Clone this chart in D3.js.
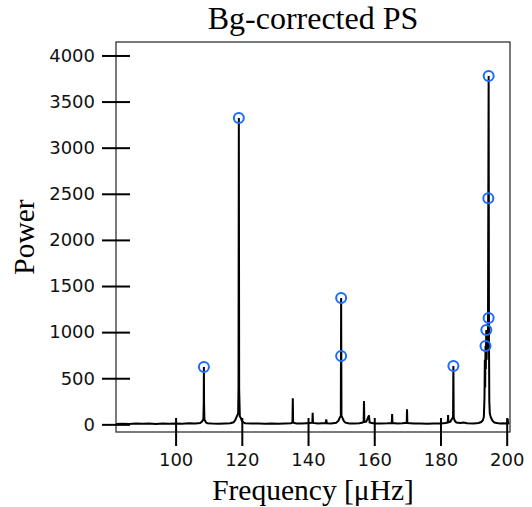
<!DOCTYPE html>
<html>
<head>
<meta charset="utf-8">
<script src="https://cdn.jsdelivr.net/npm/d3@7"></script>
<style>
  body { margin: 0; background: #fff; }
</style>
</head>
<body>
<div id="chart"></div>
<script>
// spectrum: [frequency (µHz), power]
const spectrum = [
    [82.0, 5], [84.0, 7], [86.0, 4], [88.0, 8], [90.0, 6], [92.0, 9], [94.0, 5], [96.0, 10],
    [98.0, 7], [100.0, 9], [102.0, 6], [104.0, 11], [106.0, 9], [107.4, 14], [107.9, 28],
    [108.2, 42], [108.4, 60], [108.5, 240], [108.55, 621], [108.6, 230], [108.7, 55],
    [108.9, 38], [109.2, 20], [109.6, 12], [111.0, 9], [113.0, 7], [115.0, 10], [116.5, 12],
    [117.5, 22], [118.0, 45], [118.3, 70], [118.6, 95], [118.9, 120], [119.0, 400],
    [119.1, 3322], [119.2, 380], [119.4, 85], [119.7, 70], [120.0, 40], [120.4, 22],
    [121.0, 12], [123.0, 8], [125.0, 10], [127.0, 7], [129.0, 9], [131.0, 6], [133.0, 10],
    [134.8, 12], [135.3, 20], [135.4, 282], [135.5, 18], [136.5, 10], [138.0, 8], [139.5, 12],
    [140.5, 14], [141.3, 18], [141.4, 126], [141.5, 16], [143.0, 9], [145.3, 14], [145.5, 54],
    [145.7, 12], [147.0, 10], [148.5, 18], [149.2, 40], [149.6, 75], [149.9, 90], [150.0, 1370],
    [150.1, 95], [150.4, 70], [150.8, 38], [151.3, 18], [152.5, 10], [154.0, 9], [155.5, 12],
    [156.5, 20], [156.8, 30], [156.9, 253], [157.0, 25], [157.6, 30], [158.4, 97], [158.6, 20],
    [160.0, 10], [162.0, 8], [164.0, 11], [165.3, 15], [165.4, 112], [165.5, 14], [167.0, 9],
    [168.5, 12], [169.8, 16], [169.9, 163], [170.0, 14], [172.0, 8], [174.0, 10], [176.0, 7],
    [178.0, 9], [180.0, 8], [181.5, 14], [182.2, 20], [182.3, 100], [182.4, 22], [183.0, 30],
    [183.5, 60], [183.8, 80], [183.9, 632], [184.0, 75], [184.3, 40], [184.8, 20], [186.0, 14],
    [187.0, 20], [188.0, 12], [190.0, 10], [191.5, 14], [192.3, 25], [192.8, 45], [193.1, 80],
    [193.3, 300], [193.4, 700], [193.5, 400], [193.6, 849], [193.7, 600], [193.8, 950],
    [193.85, 1023], [193.95, 700], [194.05, 980], [194.15, 800], [194.25, 950], [194.35, 1000],
    [194.45, 2452], [194.55, 3778], [194.65, 900], [194.75, 250], [194.9, 120], [195.1, 90],
    [195.4, 60], [195.8, 35], [196.3, 20], [197.0, 14], [198.0, 10], [199.0, 12], [200.0, 9],
    [200.2, 20], [200.3, 60], [200.4, 15], [200.8, 8]
];

// detected modes (blue circles)
const modeFreqs = [108.55, 119.1, 150.0, 150.0, 183.9, 194.55, 194.45, 194.55, 193.85, 193.6];
const modePowers = [621, 3322, 1370, 742, 632, 3778, 2452, 1153, 1023, 849];

const freqTicks = [100, 120, 140, 160, 180, 200];
const powerTicks = [0, 500, 1000, 1500, 2000, 2500, 3000, 3500, 4000];

const width = 532;
const height = 507;
const margin = { top: 42, right: 22, bottom: 75, left: 116 };
const tickLen = 14;

const svg = d3.select("#chart")
    .append("svg")
    .attr("width", width)
    .attr("height", height);

const x = d3.scaleLinear()
    .domain([82, 201])
    .range([margin.left, width - margin.right]);

const y = d3.scaleLinear()
    .domain([-83, 4146])
    .range([height - margin.bottom, margin.top]);

svg.append("defs").append("clipPath").attr("id", "plot")
    .append("rect")
    .attr("x", margin.left)
    .attr("y", margin.top)
    .attr("width", width - margin.left - margin.right)
    .attr("height", height - margin.top - margin.bottom);

const line = d3.line()
    .x(d => x(d[0]))
    .y(d => y(d[1]));

svg.append("path")
    .datum(spectrum)
    .attr("clip-path", "url(#plot)")
    .attr("fill", "none")
    .attr("stroke", "#000")
    .attr("stroke-width", 2)
    .attr("stroke-linejoin", "miter")
    .attr("d", line);

svg.append("g")
    .selectAll("circle")
    .data(modeFreqs)
    .join("circle")
    .attr("cx", d => x(d))
    .attr("cy", (d, i) => y(modePowers[i]))
    .attr("r", 5)
    .attr("fill", "none")
    .attr("stroke", "#1a6cff")
    .attr("stroke-width", 2);

// frame
svg.append("rect")
    .attr("x", margin.left)
    .attr("y", margin.top)
    .attr("width", width - margin.left - margin.right)
    .attr("height", height - margin.top - margin.bottom)
    .attr("fill", "none")
    .attr("stroke", "#222")
    .attr("stroke-width", 1.2);

const yAxis = svg.append("g")
    .attr("transform", "translate(" + margin.left + ",0)")
    .call(d3.axisLeft(y).tickValues(powerTicks).tickFormat(d3.format("d"))
        .tickSize(tickLen).tickPadding(7));

yAxis.select(".domain").remove();
yAxis.selectAll(".tick line")
    .attr("x1", tickLen)
    .attr("stroke", "#000")
    .attr("stroke-width", 2);
yAxis.selectAll(".tick text")
    .attr("fill", "#111")
    .style("font-family", "'DejaVu Sans', sans-serif")
    .style("font-size", "18px");

const xAxis = svg.append("g")
    .attr("transform", "translate(0," + (height - margin.bottom) + ")")
    .call(d3.axisBottom(x).tickValues(freqTicks).tickFormat(d3.format("d"))
        .tickSize(tickLen).tickPadding(7));

xAxis.select(".domain").remove();
xAxis.selectAll(".tick line")
    .attr("y1", -tickLen)
    .attr("stroke", "#000")
    .attr("stroke-width", 2);
xAxis.selectAll(".tick text")
    .attr("fill", "#111")
    .style("font-family", "'DejaVu Sans', sans-serif")
    .style("font-size", "18px");

const serif = "'Liberation Serif', 'Times New Roman', serif";

svg.append("text")
    .attr("x", (margin.left + width - margin.right) / 2)
    .attr("y", 29)
    .attr("text-anchor", "middle")
    .style("font-family", serif)
    .style("font-size", "32px")
    .text("Bg-corrected PS");

svg.append("text")
    .attr("x", (margin.left + width - margin.right) / 2)
    .attr("y", 500)
    .attr("text-anchor", "middle")
    .style("font-family", serif)
    .style("font-size", "29.5px")
    .text("Frequency [μHz]");

svg.append("text")
    .attr("transform", "translate(34," + ((margin.top + height - margin.bottom) / 2) + ") rotate(-90)")
    .attr("text-anchor", "middle")
    .style("font-family", serif)
    .style("font-size", "29.5px")
    .text("Power");
</script>
</body>
</html>
